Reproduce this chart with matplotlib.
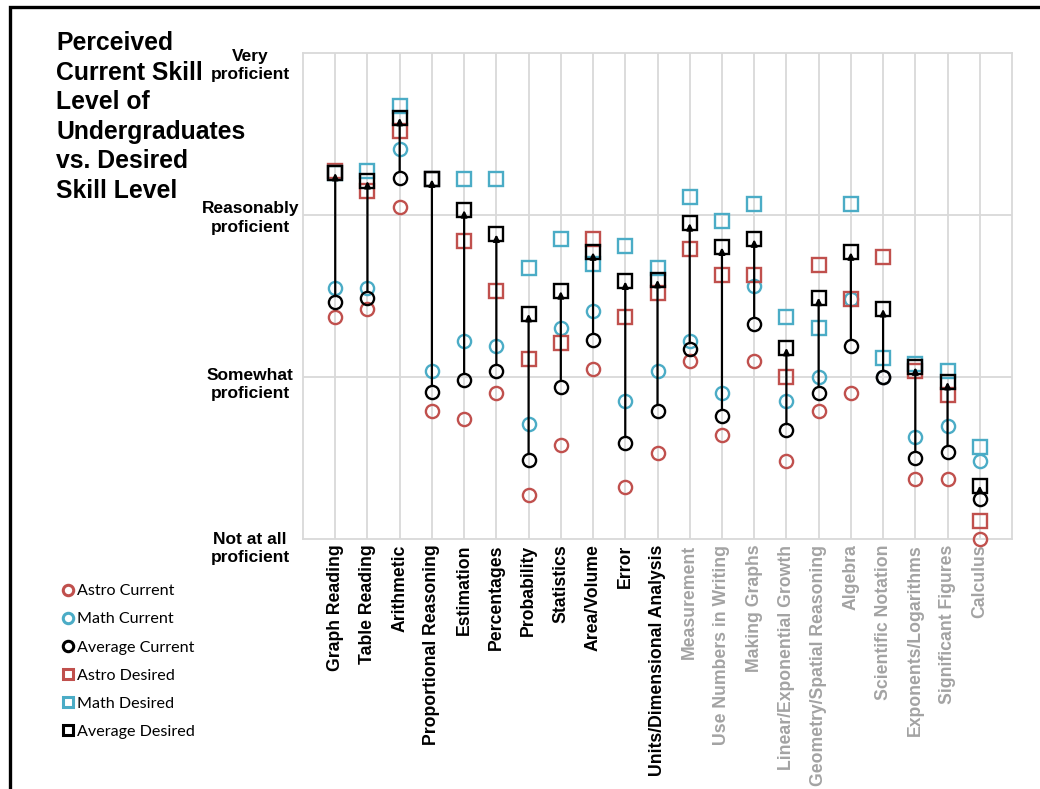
import matplotlib
matplotlib.use("Agg")
import matplotlib.pyplot as plt
from matplotlib.lines import Line2D
import matplotlib.transforms as mtransforms

categories = ["Graph Reading", "Table Reading", "Arithmetic", "Proportional Reasoning",
              "Estimation", "Percentages", "Probability", "Statistics", "Area/Volume",
              "Error", "Units/Dimensional Analysis", "Measurement", "Use Numbers in Writing",
              "Making Graphs", "Linear/Exponential Growth", "Geometry/Spatial Reasoning",
              "Algebra", "Scientific Notation", "Exponents/Logarithms", "Significant Figures",
              "Calculus"]
n_dark = 11  # first categories drawn in black, the rest in gray

astro_current = [1.37, 1.42, 2.05, 0.79, 0.74, 0.90, 0.27, 0.58, 1.05, 0.32, 0.53,
                 1.10, 0.64, 1.10, 0.48, 0.79, 0.90, 1.00, 0.37, 0.37, 0.00]
math_current = [1.55, 1.55, 2.41, 1.04, 1.22, 1.19, 0.71, 1.30, 1.41, 0.85, 1.04,
                1.22, 0.90, 1.56, 0.85, 1.00, 1.48, 1.00, 0.63, 0.70, 0.48]
avg_current = [1.46, 1.49, 2.23, 0.91, 0.98, 1.04, 0.49, 0.94, 1.23, 0.59, 0.79,
               1.17, 0.76, 1.33, 0.67, 0.90, 1.19, 1.00, 0.50, 0.54, 0.25]
astro_desired = [2.27, 2.15, 2.52, 2.22, 1.84, 1.53, 1.11, 1.21, 1.85, 1.37, 1.52,
                 1.79, 1.63, 1.63, 1.00, 1.69, 1.48, 1.74, 1.04, 0.89, 0.11]
math_desired = [2.26, 2.27, 2.67, 2.22, 2.22, 2.22, 1.67, 1.85, 1.70, 1.81, 1.67,
                2.11, 1.96, 2.07, 1.37, 1.30, 2.07, 1.12, 1.08, 1.04, 0.57]
avg_desired = [2.26, 2.21, 2.60, 2.22, 2.03, 1.88, 1.39, 1.53, 1.77, 1.59, 1.60,
               1.95, 1.80, 1.85, 1.18, 1.49, 1.77, 1.42, 1.06, 0.97, 0.33]

level_labels = ["Not at all\nproficient", "Somewhat\nproficient",
                "Reasonably\nproficient", "Very\nproficient"]
level_values = [0, 1, 2, 3]

title_lines = ["Perceived", "Current Skill", "Level of", "Undergraduates",
               "vs. Desired", "Skill Level"]

RED = "#c0504d"
TEAL = "#4bacc6"
BLACK = "#000000"
GRAY_LABEL = "#a3a3a3"
GRID = "#d9d9d9"

W, H = 1040, 789
fig = plt.figure(figsize=(W / 100, H / 100), dpi=100)
ax = fig.add_axes([303 / W, 1 - 539 / H, (1012 - 303) / W, (539 - 53) / H])

x = list(range(1, len(categories) + 1))
ax.set_xlim(0, len(categories) + 1)
ax.set_ylim(0, 3)

# grid
for xi in x:
    ax.axvline(xi, color=GRID, lw=1.3, zorder=0)
for yv in [1, 2]:
    ax.axhline(yv, color=GRID, lw=1.3, zorder=0)
for sp in ax.spines.values():
    sp.set_color(GRID)
    sp.set_linewidth(1.3)

ms, mew = 9.5, 1.7
lines = []
lines.append(ax.plot(x, astro_current, 'o', ms=ms, mfc='none', mec=RED, mew=mew,
                     zorder=3, label="Astro Current", clip_on=False)[0])
lines.append(ax.plot(x, math_current, 'o', ms=ms, mfc='none', mec=TEAL, mew=mew,
                     zorder=3, label="Math Current", clip_on=False)[0])
lines.append(ax.plot(x, avg_current, 'o', ms=ms, mfc='none', mec=BLACK, mew=mew,
                     zorder=4, label="Average Current", clip_on=False)[0])
lines.append(ax.plot(x, astro_desired, 's', ms=ms, mfc='none', mec=RED, mew=mew,
                     zorder=3, label="Astro Desired", clip_on=False)[0])
lines.append(ax.plot(x, math_desired, 's', ms=ms, mfc='none', mec=TEAL, mew=mew,
                     zorder=3, label="Math Desired", clip_on=False)[0])
lines.append(ax.plot(x, avg_desired, 's', ms=ms, mfc='none', mec=BLACK, mew=mew,
                     zorder=4, label="Average Desired", clip_on=False)[0])

for xi, c, d in zip(x, avg_current, avg_desired):
    ax.annotate("", xy=(xi, d), xytext=(xi, c),
                arrowprops=dict(arrowstyle='-|>', color=BLACK, lw=1.6,
                                shrinkA=4.5, shrinkB=0, mutation_scale=9),
                zorder=5)

# x tick labels
ax.set_xticks(x)
ax.set_xticklabels(categories, rotation=90, fontsize=12.7, fontweight='bold',
                   family='Liberation Sans', va='top', ha='center')
for i, t in enumerate(ax.get_xticklabels()):
    t.set_color(BLACK if i < n_dark else GRAY_LABEL)
ax.tick_params(axis='x', length=0, pad=4)

# y tick labels
ax.set_yticks(level_values)
ax.set_yticklabels(level_labels, fontsize=12.5, fontweight='bold',
                   family='Liberation Sans', ha='center', multialignment='center',
                   linespacing=1.3)
ax.tick_params(axis='y', length=0, pad=38)
offsets = [-6, -4, 0, -9]
for t, off in zip(ax.get_yticklabels(), offsets):
    t.set_transform(t.get_transform() +
                    mtransforms.ScaledTranslation(0, off / 100, fig.dpi_scale_trans))

# title, one text per line
for i, line in enumerate(title_lines):
    fig.text(56 / W, 1 - (50 + i * 29.6) / H, line, fontsize=17.8, fontweight='bold',
             family='Liberation Sans', va='baseline', ha='left')

# legend
handles = [Line2D([], [], ls='none', marker=l.get_marker(), ms=7.5, mfc='none',
                  mec=l.get_mec(), mew=2.2) for l in lines]
fig.legend(handles, [l.get_label() for l in lines], loc='upper left',
           bbox_to_anchor=(63 / W, 1 - 584 / H), frameon=False,
           prop=dict(family='Lato', size=11.6), handlelength=0.6,
           handletextpad=0.25, labelspacing=0.86, borderpad=0, borderaxespad=0)

# outer border
fig.add_artist(Line2D([10 / W, 10 / W, 1.0], [0.0, 1 - 7 / H, 1 - 7 / H],
                      transform=fig.transFigure, color='black', lw=2.4,
                      solid_joinstyle='miter'))

fig.savefig("out.png", dpi=100)
